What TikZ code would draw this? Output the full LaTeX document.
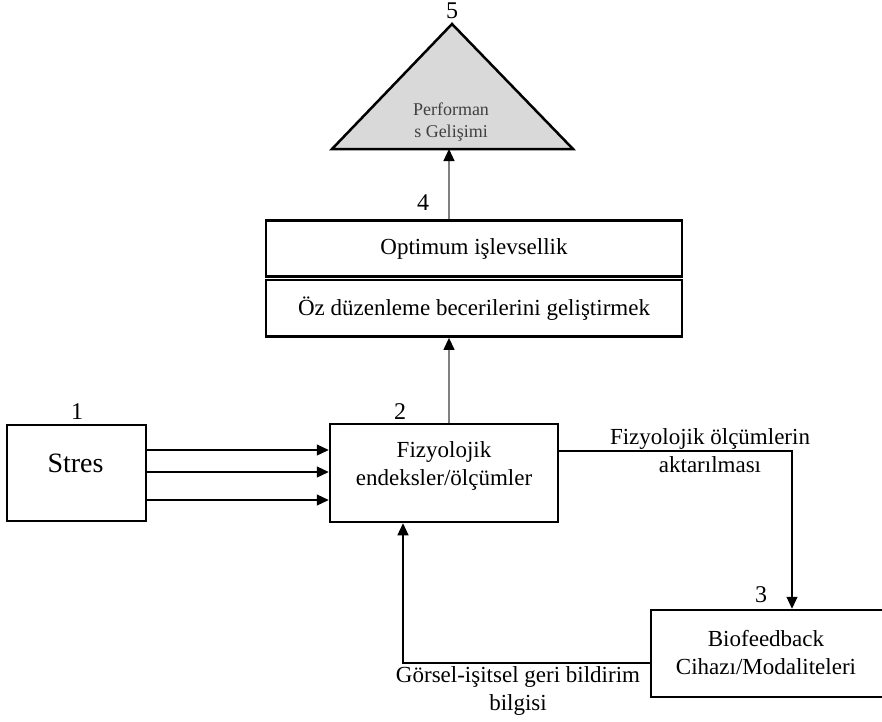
\documentclass[tikz,border=0pt]{standalone}
\usepackage{fontspec}
\setmainfont{Liberation Serif}
\usetikzlibrary{arrows.meta,calc}

\begin{document}
\begin{tikzpicture}[x=1pt,y=-1pt]
		\tikzstyle{box}=[draw,line width=2.5pt,inner sep=0pt]
		\tikzstyle{txt}=[align=center,inner sep=0pt,font=\fontsize{23}{28}\selectfont]
		\tikzstyle{num}=[anchor=base,inner sep=0pt,font=\fontsize{24}{24}\selectfont]
		\tikzstyle{arr}=[line width=1.2pt,-{Triangle[length=12pt,width=11pt]}]
		\tikzstyle{gray arr}=[line width=1.2pt,draw=black!50,-{Triangle[length=12pt,width=11pt,color=black]}]
		
		\useasboundingbox (0,0) rectangle (882,721);
		
		% boxes
		\node[box,minimum width=139pt,minimum height=96pt] (1) at (76.5,473) {};
		\node[box,minimum width=228pt,minimum height=98pt] (2) at (444,473) {};
		\node[box,minimum width=239pt,minimum height=87pt] (3) at (770.5,653.5) {};
		\node[box,txt,minimum width=416pt,minimum height=56pt] (4a) at (474,248.7) {Optimum işlevsellik};
		\node[box,txt,minimum width=416pt,minimum height=56.7pt] (4b) at (474,308.3) {Öz düzenleme becerilerini geliştirmek};
		\filldraw[fill=black!15,line width=2.5pt] (452,24) coordinate (5top) -- (573,149) coordinate (5r) -- (332,149) coordinate (5l) -- cycle;
		
		% texts
		\node[txt,font=\fontsize{28}{32}\selectfont] (1t) at (75.5,463) {Stres};
		\node[txt] (2t) at (444,465.5) {Fizyolojik\\endeksler/ölçümler};
		\node[txt] (3t) at (766,652) {Biofeedback\\Cihazı/Modaliteleri};
		\node[txt,font=\fontsize{18}{22}\selectfont,text=black!75] (5) at (451,122) {Performan\\s Gelişimi};
		
		% numbers
		\node[num] (n1) at (77,419) {1};
		\node[num] (n2) at (400,419) {2};
		\node[num] (n3) at (761,602) {3};
		\node[num] (n4) at (423,210) {4};
		\node[num] (n5) at (452,18) {5};
		
		% connectors
		\foreach \y in {450,472,500}
		\draw[arr] (1.east |- 0,\y) -- (2.west |- 0,\y);
		
		\coordinate (axis) at (449,0);
		\draw[gray arr] (2.north -| axis) -- (4b.south -| axis);
		\draw[gray arr] (4a.north -| axis) -- (5l -| axis);
		
		\coordinate (c23) at (792,451);
		\draw[arr] (2.east |- c23) -- (c23) -- (c23 |- 3.north);
		\node[txt] (l23) at (710,451) {Fizyolojik ölçümlerin\\aktarılması};
		
		\coordinate (c32) at (403,663);
		\draw[arr] (3.west |- c32) -- (c32) -- (c32 |- 2.south);
		\node[txt] (l32) at (518,691) {Görsel-işitsel geri bildirim\\bilgisi};
		
	\end{tikzpicture}
\end{document}
